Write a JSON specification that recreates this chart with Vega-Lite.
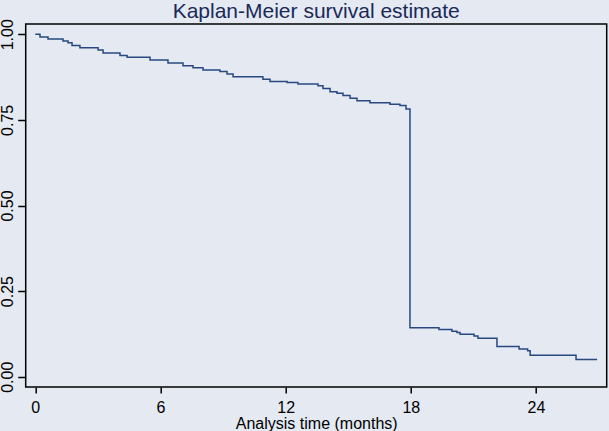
{
  "$schema": "https://vega.github.io/schema/vega-lite/v6.json",
  "autosize": "none",
  "width": 581,
  "height": 363,
  "padding": {"top": 24, "left": 25.7, "right": 2.3, "bottom": 44},
  "background": "#e4e9f2",
  "title": {
    "text": "Kaplan-Meier survival estimate",
    "font": "Liberation Sans",
    "fontSize": 21,
    "fontWeight": "normal",
    "color": "#1a2a57",
    "anchor": "middle",
    "baseline": "alphabetic",
    "offset": -20
  },
  "config": {
    "view": {"stroke": "#000000", "strokeWidth": 1.5, "fill": "#e4e9f2"},
    "axis": {
      "labelFont": "Liberation Sans",
      "titleFont": "Liberation Sans",
      "labelColor": "#000000",
      "titleColor": "#000000",
      "tickColor": "#000000",
      "tickWidth": 1.5,
      "grid": false,
      "domain": false
    }
  },
  "data": {
    "values": [
      {"t": 0, "s": 1.0},
      {"t": 0.225, "s": 0.992},
      {"t": 0.61, "s": 0.986},
      {"t": 1.33, "s": 0.98},
      {"t": 1.57, "s": 0.975},
      {"t": 1.76, "s": 0.967},
      {"t": 2.14, "s": 0.961},
      {"t": 3.01, "s": 0.954},
      {"t": 3.25, "s": 0.945},
      {"t": 4.06, "s": 0.938},
      {"t": 4.4, "s": 0.933},
      {"t": 5.5, "s": 0.925},
      {"t": 6.36, "s": 0.916},
      {"t": 7.08, "s": 0.908},
      {"t": 7.56, "s": 0.902},
      {"t": 8.04, "s": 0.896},
      {"t": 8.85, "s": 0.891},
      {"t": 9.19, "s": 0.884},
      {"t": 9.48, "s": 0.876},
      {"t": 10.91, "s": 0.869},
      {"t": 11.25, "s": 0.862},
      {"t": 12.07, "s": 0.859},
      {"t": 12.59, "s": 0.855},
      {"t": 13.55, "s": 0.85},
      {"t": 13.79, "s": 0.842},
      {"t": 14.13, "s": 0.832},
      {"t": 14.46, "s": 0.828},
      {"t": 14.75, "s": 0.821},
      {"t": 15.09, "s": 0.813},
      {"t": 15.42, "s": 0.806},
      {"t": 16.04, "s": 0.8},
      {"t": 17.0, "s": 0.796},
      {"t": 17.48, "s": 0.792},
      {"t": 17.77, "s": 0.782},
      {"t": 17.96, "s": 0.143},
      {"t": 19.35, "s": 0.138},
      {"t": 19.97, "s": 0.133},
      {"t": 20.21, "s": 0.129},
      {"t": 20.36, "s": 0.124},
      {"t": 21.03, "s": 0.119},
      {"t": 21.22, "s": 0.112},
      {"t": 22.13, "s": 0.088},
      {"t": 23.19, "s": 0.081},
      {"t": 23.6, "s": 0.076},
      {"t": 23.72, "s": 0.063},
      {"t": 25.92, "s": 0.05},
      {"t": 26.93, "s": 0.05}
    ]
  },
  "mark": {"type": "line", "interpolate": "step-after", "color": "#27497f", "strokeWidth": 1.5},
  "encoding": {
    "x": {
      "field": "t",
      "type": "quantitative",
      "scale": {"domain": [-0.46, 27.39], "nice": false, "zero": false},
      "axis": {
        "values": [0, 6, 12, 18, 24],
        "title": "Analysis time (months)",
        "titleFontSize": 16,
        "titleFontWeight": "normal",
        "titlePadding": 0,
        "labelFontSize": 16,
        "tickSize": 6,
        "labelPadding": 6
      }
    },
    "y": {
      "field": "s",
      "type": "quantitative",
      "scale": {"domain": [-0.03, 1.03], "nice": false, "zero": false},
      "axis": {
        "values": [0, 0.25, 0.5, 0.75, 1],
        "format": ".2f",
        "title": null,
        "labelAngle": 270,
        "labelAlign": "center",
        "labelBaseline": "alphabetic",
        "labelFontSize": 16,
        "tickSize": 8,
        "labelPadding": 5
      }
    }
  }
}
